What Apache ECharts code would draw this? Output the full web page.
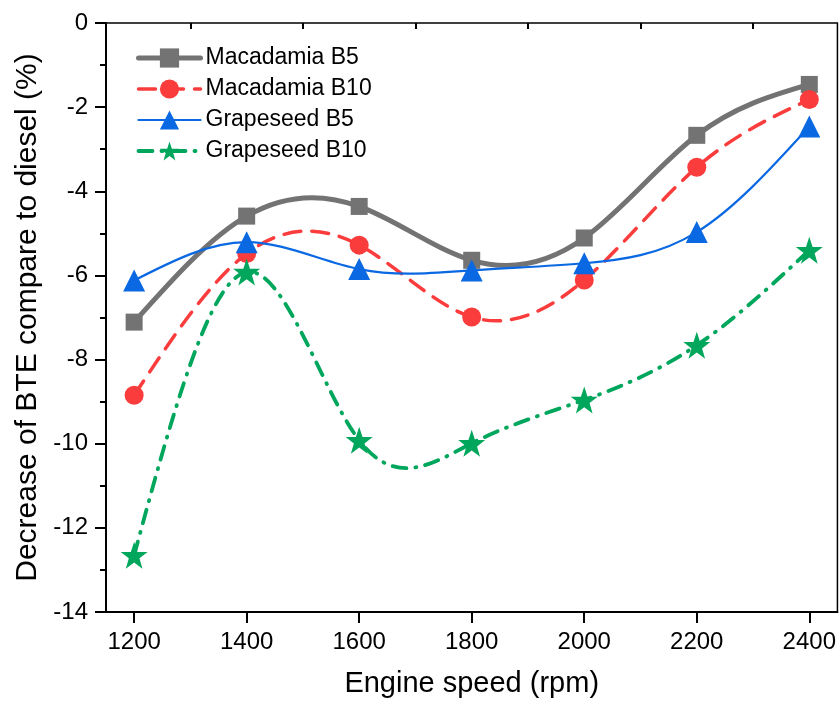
<!DOCTYPE html>
<html>
<head>
<meta charset="utf-8">
<script src="https://cdn.jsdelivr.net/npm/echarts@6/dist/echarts.min.js"></script>
<style>
  html, body { margin: 0; padding: 0; background: #fff; }
  #chart { width: 839px; height: 705px; }
</style>
</head>
<body>
<div id="chart"></div>
<script>
// engine speed (rpm)
const rpm = [1200, 1400, 1600, 1800, 2000, 2200, 2400];
const majorTicks = [1200, 1400, 1600, 1800, 2000, 2200, 2400];
const minorTicks = [1300, 1500, 1700, 1900, 2100, 2300];

// decrease of BTE compared to diesel (%)
const macadamiaB5 = [-7.11, -4.59, -4.36, -5.64, -5.11, -2.67, -1.46];
const macadamiaB10 = [-8.85, -5.48, -5.28, -6.99, -6.11, -3.43, -1.82];
const grapeseedB5 = [-6.12, -5.21, -5.85, -5.88, -5.71, -4.97, -2.46];
const grapeseedB10 = [-12.65, -5.92, -9.92, -9.99, -8.96, -7.66, -5.40];

const FONT = "'Liberation Sans', Arial, sans-serif";
const STAR = 'path://M50,2 L61.5,36 L97,36 L68.5,57.5 L79,92 L50,71 L21,92 L31.5,57.5 L3,36 L38.5,36 Z';

function pairs(ys) {
    return rpm.map(function (x, i) { return [x, ys[i]]; });
}

// natural cubic spline through the points (like Origin's "Spline" connect),
// returned as bezier segments in data space
function splineSegments(xs, ys) {
    const n = xs.length;
    const h = [];
    for (let i = 0; i < n - 1; i++) h[i] = xs[i + 1] - xs[i];
    const M = new Array(n).fill(0);
    const cp = [], dp = [];
    for (let i = 1; i < n - 1; i++) {
        const a = h[i - 1], b = 2 * (h[i - 1] + h[i]), c = h[i];
        const d = 6 * ((ys[i + 1] - ys[i]) / h[i] - (ys[i] - ys[i - 1]) / h[i - 1]);
        const prevC = i > 1 ? cp[i - 1] : 0;
        const prevD = i > 1 ? dp[i - 1] : 0;
        const den = b - a * prevC;
        cp[i] = c / den;
        dp[i] = (d - a * prevD) / den;
    }
    for (let i = n - 2; i >= 1; i--) {
        M[i] = dp[i] - cp[i] * (i < n - 2 ? M[i + 1] : 0);
    }
    const segs = [];
    for (let i = 0; i < n - 1; i++) {
        const hh = h[i];
        const s = (ys[i + 1] - ys[i]) / hh;
        const s0 = s - hh * (2 * M[i] + M[i + 1]) / 6;
        const s1 = s + hh * (M[i] + 2 * M[i + 1]) / 6;
        segs.push({
            c1: [xs[i] + hh / 3, ys[i] + s0 * hh / 3],
            c2: [xs[i + 1] - hh / 3, ys[i + 1] - s1 * hh / 3],
            end: [xs[i + 1], ys[i + 1]]
        });
    }
    return segs;
}

function curveSeries(name, ys, lineStyle) {
    return {
        name: name + ' spline',
        type: 'custom',
        silent: true,
        z: 1,
        data: pairs(ys),
        encode: { x: 0, y: 1 },
        renderItem: function (params, api) {
            if (params.dataIndex !== 0) return { type: 'group', children: [] };
            const start = api.coord([rpm[0], ys[0]]);
            let d = 'M' + start[0] + ' ' + start[1];
            splineSegments(rpm, ys).forEach(function (s) {
                const a = api.coord(s.c1), b = api.coord(s.c2), e = api.coord(s.end);
                d += ' C' + a[0] + ' ' + a[1] + ' ' + b[0] + ' ' + b[1] + ' ' + e[0] + ' ' + e[1];
            });
            return {
                type: 'path',
                shape: { pathData: d },
                style: {
                    fill: 'none',
                    stroke: lineStyle.color,
                    lineWidth: lineStyle.width,
                    lineDash: lineStyle.dash || null,
                    lineCap: 'round'
                }
            };
        }
    };
}

function markerSeries(name, ys, symbol, size, color) {
    return {
        name: name,
        type: 'line',
        z: 3,
        data: pairs(ys),
        symbol: symbol,
        symbolSize: size,
        itemStyle: { color: color },
        lineStyle: { color: color, opacity: 0 }
    };
}

const styles = {
    'Macadamia B5': { color: '#737373', width: 5 },
    'Macadamia B10': { color: '#fa3c3c', width: 3.5, dash: [17, 11] },
    'Grapeseed B5': { color: '#0a68e2', width: 2.2 },
    'Grapeseed B10': { color: '#00a65c', width: 3.8, dash: [14, 9, 1, 9] }
};

function legendItem(name) {
    const st = styles[name];
    return {
        name: name,
        lineStyle: {
            color: st.color, width: st.width, opacity: 1,
            type: st.dash ? st.dash : 'solid', cap: 'round'
        }
    };
}

const chart = echarts.init(document.getElementById('chart'));

const option = {
    animation: false,
    textStyle: { fontFamily: FONT },
    grid: {
        left: 106, right: 1, top: 23, bottom: 93,
        show: true, borderColor: '#000', borderWidth: 1.5
    },
    legend: {
        orient: 'vertical',
        left: 131,
        top: 41,
        itemWidth: 62,
        itemHeight: 24,
        itemGap: 7,
        textStyle: { fontSize: 23, color: '#000', fontFamily: FONT, lineHeight: 24 },
        data: ['Macadamia B5', 'Macadamia B10', 'Grapeseed B5', 'Grapeseed B10'].map(legendItem)
    },
    xAxis: [
        {
            type: 'value',
            min: 1150,
            max: 2450,
            name: 'Engine speed (rpm)',
            nameLocation: 'middle',
            nameGap: 57,
            nameTextStyle: { fontSize: 29, color: '#000', fontFamily: FONT },
            axisLine: { onZero: false, lineStyle: { color: '#000', width: 2 } },
            axisTick: { inside: false, length: 11, lineStyle: { width: 2 }, customValues: majorTicks },
            axisLabel: {
                fontSize: 24, color: '#000', margin: 18, customValues: majorTicks,
                formatter: function (v) { return String(v); }
            },
            splitLine: { show: false }
        },
        {
            type: 'value',
            position: 'bottom',
            min: 1150,
            max: 2450,
            axisLine: { show: false },
            axisTick: { inside: false, length: 6, lineStyle: { color: '#000', width: 2 }, customValues: minorTicks },
            axisLabel: { show: false },
            splitLine: { show: false }
        }
    ],
    yAxis: {
        type: 'value',
        min: -14,
        max: 0,
        interval: 2,
        name: 'Decrease of BTE compare to diesel (%)',
        nameLocation: 'middle',
        nameGap: 57,
        nameTextStyle: { fontSize: 30, color: '#000', fontFamily: FONT },
        axisLine: { show: true, onZero: false, lineStyle: { color: '#000', width: 2 } },
        axisTick: { show: true, inside: false, length: 11, lineStyle: { width: 2 } },
        minorTick: { show: true, splitNumber: 2, length: 6, lineStyle: { color: '#000', width: 2 } },
        axisLabel: { fontSize: 24, color: '#000', margin: 18 },
        splitLine: { show: false }
    },
    series: [
        curveSeries('Macadamia B5', macadamiaB5, styles['Macadamia B5']),
        curveSeries('Macadamia B10', macadamiaB10, styles['Macadamia B10']),
        curveSeries('Grapeseed B5', grapeseedB5, styles['Grapeseed B5']),
        curveSeries('Grapeseed B10', grapeseedB10, styles['Grapeseed B10']),
        markerSeries('Macadamia B5', macadamiaB5, 'rect', 17, '#737373'),
        markerSeries('Macadamia B10', macadamiaB10, 'circle', 19, '#fa3c3c'),
        markerSeries('Grapeseed B5', grapeseedB5, 'triangle', 22, '#0a68e2'),
        markerSeries('Grapeseed B10', grapeseedB10, STAR, 27, '#00a65c')
    ]
};
chart.setOption(option);
</script>
</body>
</html>
